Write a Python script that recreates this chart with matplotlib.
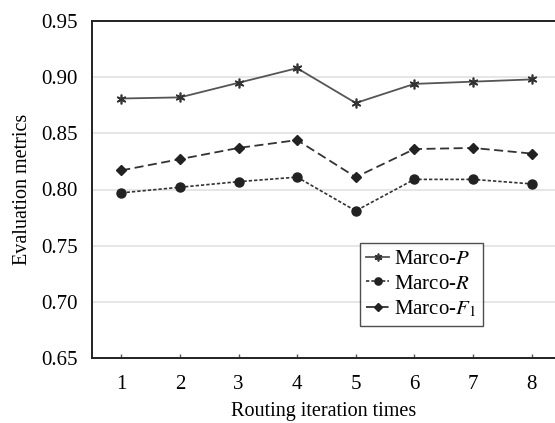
import matplotlib
matplotlib.use("Agg")
import matplotlib.pyplot as plt

iterations = [1, 2, 3, 4, 5, 6, 7, 8]
marco_p = [0.881, 0.882, 0.895, 0.908, 0.877, 0.894, 0.896, 0.898]
marco_r = [0.797, 0.802, 0.807, 0.811, 0.781, 0.809, 0.809, 0.805]
marco_f1 = [0.817, 0.827, 0.837, 0.844, 0.811, 0.836, 0.837, 0.832]
yticks = [0.65, 0.70, 0.75, 0.80, 0.85, 0.90, 0.95]

plt.rcParams['font.family'] = ['Liberation Serif', 'DejaVu Serif']
plt.rcParams['mathtext.fontset'] = 'stix'

fig = plt.figure(figsize=(5.55, 4.23), dpi=100)
ax = fig.add_axes([92/555, 1 - 358/423, 1 - 92/555, (358 - 21)/423])

ax.plot(iterations, marco_p, color='#555555', lw=1.3, ls='-', marker=(6, 2, 0),
        ms=7, mec='#333333', mew=1.2, label='Marco-$P$')
ax.plot(iterations, marco_r, color='#333333', lw=1.2, ls=(0, (2, 1.2)), marker='o',
        ms=6.5, mfc='#222222', mec='#222222', label='Marco-$R$')
ax.plot(iterations, marco_f1, color='#333333', lw=1.3, ls=(0, (5, 2.5)), marker='D',
        ms=5.5, mfc='#222222', mec='#222222', label='Marco-$F_1$')

ax.set_xlim(0.5, 8.4)
ax.set_ylim(0.65, 0.95)
ax.set_yticks(yticks)
ax.set_yticklabels([f"{v:.2f}" for v in yticks])
ax.set_xticks(iterations)
ax.yaxis.grid(True, color='#e2e2e2', lw=1.2)
ax.set_axisbelow(True)
ax.tick_params(axis='y', length=0, labelsize=15, pad=10.5)
ax.tick_params(axis='x', direction='in', length=3, width=1, color='#555555', labelsize=15, pad=12)
for s in ['left', 'bottom', 'top']:
    ax.spines[s].set_linewidth(1.4)
    ax.spines[s].set_color('#222222')
ax.spines['right'].set_visible(False)

ax.set_xlabel('Routing iteration times', fontsize=14.5, labelpad=6)
ax.set_ylabel('Evaluation metrics', fontsize=14.5, labelpad=6)

leg = ax.legend(loc='upper left', bbox_to_anchor=((360 - 92)/463, 1 - (243 - 21)/337),
                frameon=True, fancybox=False, edgecolor='#222222', fontsize=15,
                handlelength=1.1, handletextpad=0.25, borderpad=0.3, labelspacing=0.25,
                borderaxespad=0, markerscale=0.8)
leg.get_frame().set_linewidth(1.0)

fig.savefig('out.png', dpi=100)
